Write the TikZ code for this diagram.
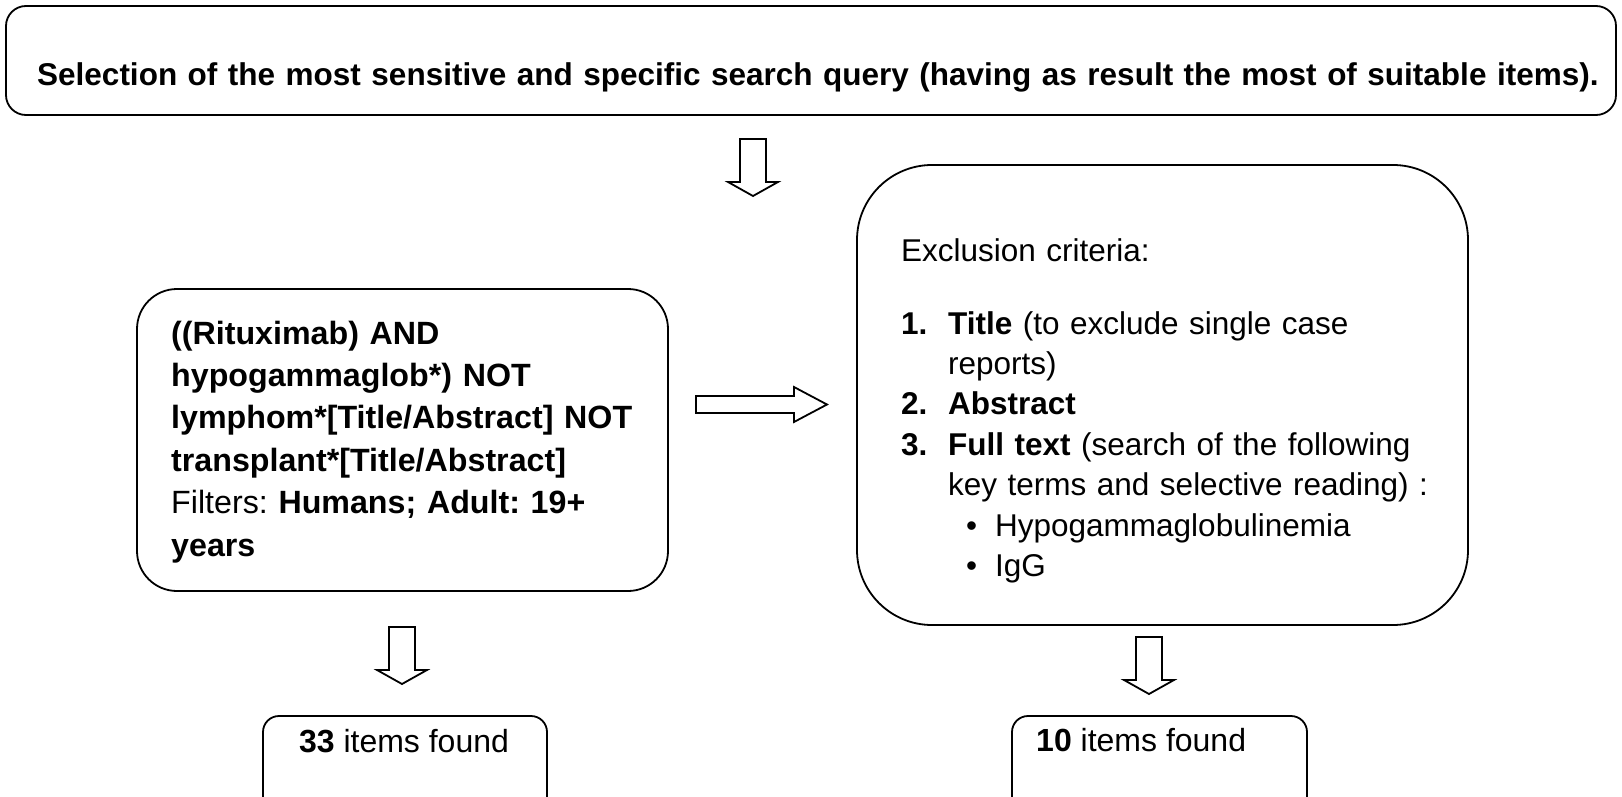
\documentclass[tikz,border=0pt]{standalone}
\usepackage{fontspec}
\setmainfont{Liberation Sans}
\frenchspacing
\begin{document}
\begin{tikzpicture}[x=1pt,y=-1pt,
  box/.style={draw, line width=1.8pt, inner sep=0pt},
  blk/.style={draw, line width=1.8pt, fill=white, line join=miter},
  txt/.style={inner sep=0pt, align=left, text width=#1},
  txt/.default=600pt,
  fnt/.style 2 args={font=\fontsize{#1}{#2}\selectfont},
  pics/downarr/.style={code={\draw[blk] (-13,0) -- (13,0) -- (13,43) -- (25,43) -- (0,57) -- (-25,43) -- (-13,43) -- cycle;}},
]
\clip (0,0) rectangle (1622,797);
% boxes
\node[box, rounded corners=20pt, minimum width=1610pt, minimum height=109pt] (top) at (811,60.5) {};
\node[box, rounded corners=40pt, minimum width=531pt, minimum height=302pt] (query) at (402.5,440) {};
\node[box, rounded corners=75pt, minimum width=611pt, minimum height=460pt] (excl) at (1162.5,395) {};
\node[box, rounded corners=16pt, minimum width=284pt, minimum height=124pt] (res1) at (405,778) {};
\node[box, rounded corners=16pt, minimum width=295pt, minimum height=124pt] (res2) at (1159.5,778) {};
% texts
\node[txt=1600pt, fnt={31.5}{36}, anchor=base west] (toptxt) at (37,86)
  {\bfseries Selection of the most sensitive and specific search query (having as result the most of suitable items).};
\node[txt=520pt, fnt={32.2}{42.4}, anchor=base west] (querytxt) at (171,344)
  {\textbf{((Rituximab) AND}\\
   \textbf{hypogammaglob*) NOT}\\
   \textbf{lymphom*[Title/Abstract] NOT}\\
   \textbf{transplant*[Title/Abstract]}\\
   Filters: \textbf{Humans; Adult: 19+}\\
   \textbf{years}};
\node[txt=580pt, fnt={31.5}{40.4}, anchor=base west] (excltxt) at (901,261)
  {Exclusion criteria:\\[32.6pt]
   \makebox[47pt][l]{\textbf{1.}}\textbf{Title} (to exclude single case\\
   \hspace*{47pt}reports)\\
   \makebox[47pt][l]{\textbf{2.}}\textbf{Abstract}\\
   \makebox[47pt][l]{\textbf{3.}}\textbf{Full text} (search of the following\\
   \hspace*{47pt}key terms and selective reading) :\\
   \hspace*{47pt}\makebox[47pt][l]{\hspace*{18pt}•}Hypogammaglobulinemia\\
   \hspace*{47pt}\makebox[47pt][l]{\hspace*{18pt}•}IgG};
\node[inner sep=0pt, fnt={32}{36}, anchor=base] (res1txt) at (404,752) {\textbf{33} items found};
\node[inner sep=0pt, fnt={32}{36}, anchor=base west] (res2txt) at (1036,751) {\textbf{10} items found};
% block arrows
\coordinate (d1) at (753,139);
\coordinate (d2) at (402,627);
\coordinate (d3) at (1149,637);
\pic at (d1) {downarr};
\pic at (d2) {downarr};
\pic at (d3) {downarr};
\draw[blk] (696,396) -- (794,396) -- (794,387) -- (827,404.5) -- (794,422) -- (794,413) -- (696,413) -- cycle;
\end{tikzpicture}
\end{document}
